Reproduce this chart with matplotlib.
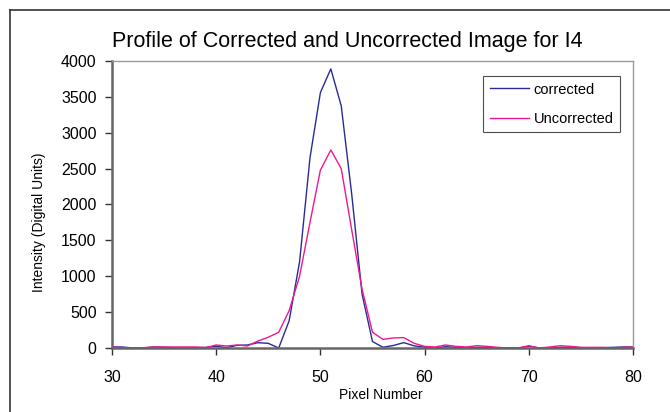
import numpy as np
import matplotlib
matplotlib.use("Agg")
import matplotlib.pyplot as plt
from matplotlib.lines import Line2D

plt.rcParams['font.family'] = ['Liberation Sans', 'DejaVu Sans']

# pixel positions along the profile
pixel = np.arange(30, 81)

# corrected profile (digital units)
corrected = [14, 14, 0, 0, 14, 9, 5, 5, 5, 9,
             23, 5, 37, 42, 74, 65, 0, 380, 1200, 2650,
             3560, 3890, 3375, 2150, 750, 90, 10, 35, 75, 30,
             10, 0, 18, 9, 0, 9, 9, 0, 0, 0,
             23, 0, 0, 9, 9, 5, 0, 5, 9, 14,
             14]

# uncorrected profile (digital units)
uncorrected = [14, 5, 0, 5, 14, 14, 14, 14, 14, 5,
               42, 28, 42, 28, 97, 150, 220, 520, 1000, 1750,
               2480, 2760, 2500, 1650, 820, 220, 120, 140, 145, 65,
               23, 14, 42, 23, 14, 32, 23, 9, 0, 0,
               32, 0, 14, 32, 23, 9, 9, 9, 0, 9,
               14]

fig = plt.figure(figsize=(6.7, 4.12), dpi=100)
ax = fig.add_axes([112/670, 1 - 348/412, (633 - 112)/670, (348 - 61)/412])

ax.plot(pixel, corrected, color='#2a2a96', lw=1.0, label='corrected')
ax.plot(pixel, uncorrected, color='#f0188c', lw=1.0, label='Uncorrected')

ax.set_xlim(30, 80)
ax.set_ylim(0, 4000)
ax.set_xticks(range(30, 81, 10))
ax.set_yticks(range(0, 4001, 500))
ax.tick_params(direction='out', length=5, width=1, color='#333333',
               labelsize=11.5)
ax.tick_params(axis='y', pad=6)
ax.tick_params(axis='x', pad=11)

for s in ['left', 'bottom']:
    ax.spines[s].set_color('#666666')
    ax.spines[s].set_linewidth(1.8)
for s in ['top', 'right']:
    ax.spines[s].set_color('#9a9a9a')
    ax.spines[s].set_linewidth(1.0)

ax.set_title('Profile of Corrected and Uncorrected Image for I4', fontsize=15.5,
             x=(347 - 112)/521, pad=10)
ax.set_xlabel('Pixel Number', fontsize=10, labelpad=0)
ax.xaxis.set_label_coords((381 - 112)/521, -(388 - 348)/287)
ax.set_ylabel('Intensity (Digital Units)', fontsize=10)
ax.yaxis.set_label_coords(-(112 - 46)/521, (348 - 222)/287)

leg = ax.legend(loc='upper right', bbox_to_anchor=(620/670, 1 - 76/412),
                bbox_transform=fig.transFigure, fontsize=10.5, frameon=True,
                fancybox=False, edgecolor='#222222', handlelength=2.7,
                handletextpad=0.3, labelspacing=1.05, borderpad=0.45,
                borderaxespad=0)
leg.get_frame().set_linewidth(0.8)

# outer chart border (left and top edges visible)
fig.add_artist(Line2D([10/670, 10/670], [1 - 10/412, 0], transform=fig.transFigure,
                      color='#333333', lw=1.2))
fig.add_artist(Line2D([10/670, 1], [1 - 10/412, 1 - 10/412], transform=fig.transFigure,
                      color='#333333', lw=1.2))

fig.savefig('out.png', dpi=100)
